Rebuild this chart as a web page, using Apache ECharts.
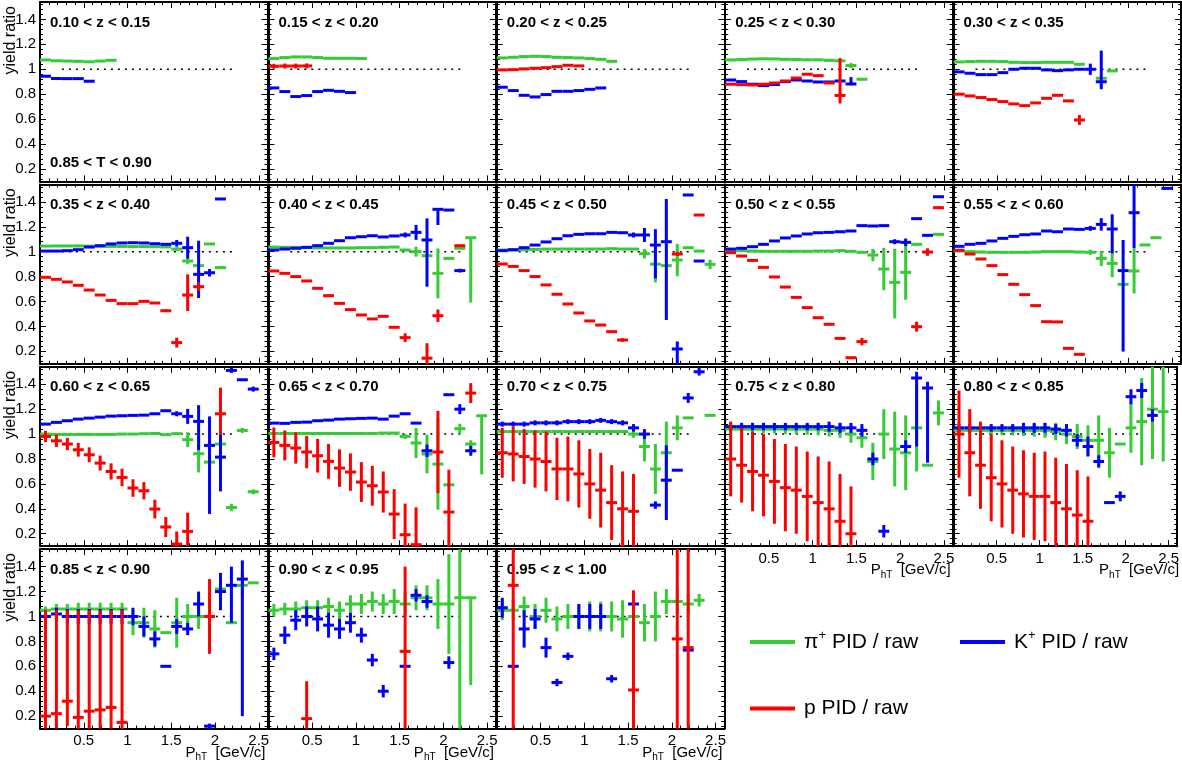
<!DOCTYPE html>
<html><head><meta charset="utf-8">
<script src="https://cdn.jsdelivr.net/npm/echarts@6/dist/echarts.min.js"></script>
<style>html,body{margin:0;padding:0;background:#fff}#c{width:1182px;height:763px}</style>
</head><body><div id="c"></div>
<script>
// ---------------- DATA ----------------
// pT bin centres (GeV/c), bin width 0.125
const pTcentres = [0.0625,0.1875,0.3125,0.4375,0.5625,0.6875,0.8125,0.9375,1.0625,1.1875,1.3125,1.4375,1.5625,1.6875,1.8125,1.9375,2.0625,2.1875,2.3125,2.4375,2.5625];
const pTHalfWidth = 0.0625;
const zLabels = ['0.10 < z < 0.15','0.15 < z < 0.20','0.20 < z < 0.25','0.25 < z < 0.30','0.30 < z < 0.35',
  '0.35 < z < 0.40','0.40 < z < 0.45','0.45 < z < 0.50','0.50 < z < 0.55','0.55 < z < 0.60',
  '0.60 < z < 0.65','0.65 < z < 0.70','0.70 < z < 0.75','0.75 < z < 0.80','0.80 < z < 0.85',
  '0.85 < z < 0.90','0.90 < z < 0.95','0.95 < z < 1.00'];
const thrustLabel = '0.85 < T < 0.90';
const seriesNames = ['π+ PID / raw','K+ PID / raw','p PID / raw'];
const refLine = [[0.25, 1], [2.2, 1]];
// entries per pT bin: null | value | [value, err] | [value, errLow, errHigh]
const pi_z010 = [1.075,1.068,1.066,1.064,1.060,1.066,1.072];
const K_z010  = [0.944,0.926,0.925,0.925,0.904];
const p_z010  = [];
const pi_z015 = [1.086,1.094,1.099,1.099,1.094,1.088,1.088,1.088,1.086];
const K_z015  = [0.850,0.821,0.781,0.789,0.821,0.831,0.823,0.813];
const p_z015  = [[1.024,0.02],[1.026,0.02],[1.026,0.02],[1.027,0.02]];
const pi_z020 = [1.091,1.096,1.102,1.104,1.102,1.096,1.094,1.091,1.086,1.080,1.064];
const K_z020  = [0.856,0.829,0.791,0.778,0.797,0.823,0.823,0.829,0.839,0.850];
const p_z020  = [0.995,0.997,1.003,1.008,1.013,1.021,1.032,1.027];
const pi_z025 = [1.075,1.078,1.082,1.084,1.083,1.080,1.078,1.076,1.076,1.072,[1.068,0.01],[1.03,0.02],0.92];
const K_z025  = [0.914,0.901,0.880,0.869,0.877,0.901,0.914,0.906,0.898,0.898,0.906,[0.882,0.01,0.055]];
const p_z025  = [0.880,0.877,0.874,0.880,0.890,0.906,0.930,0.960,0.949,0.890,[0.79,0.065,0.30]];
const pi_z030 = [1.059,1.062,1.064,1.064,1.062,1.056,1.054,1.054,1.056,1.056,1.056,[1.040,0.01],null,0.928,0.987];
const K_z030  = [0.979,0.968,0.957,0.957,0.973,1.0,1.008,1.008,0.995,0.989,0.995,1.0,[1.0,0.045],[0.90,0.06,0.25]];
const p_z030  = [0.80,0.786,0.773,0.757,0.741,0.722,0.708,0.730,0.767,0.791,0.746,[0.593,0.04]];
const pi_z035 = [1.045,1.046,1.046,1.046,1.044,1.043,1.042,1.042,1.041,1.041,1.040,1.038,[1.021,0.015],[0.925,0.025],0.888,1.062,0.872];
const K_z035  = [1.005,1.005,1.008,1.016,1.037,1.048,1.062,1.07,1.072,1.07,1.064,1.059,[1.067,0.027],[1.032,0.088],[0.818,0.19,0.27],[0.831,0.03],1.423];
const p_z035  = [0.794,0.778,0.757,0.730,0.692,0.652,0.609,0.583,0.583,0.601,0.588,[0.526,0.01],[0.27,0.04],[0.652,0.128,0.166],[0.719,0.035]];
const pi_z040 = [1.037,1.035,1.035,1.032,1.030,1.030,1.030,1.030,1.032,1.032,1.035,1.037,[1.013,0.01],[1.0,0.04],0.968,[0.826,0.2],0.946,1.027,[1.112,0.52,0.0]];
const K_z040  = [1.013,1.021,1.027,1.035,1.048,1.067,1.088,1.112,1.12,1.128,1.118,1.126,[1.134,0.02],[1.155,0.06],[1.094,0.375,0.173],[1.34,0.126,0.0],1.334,[0.848,0.015]];
const p_z040  = [0.845,0.826,0.80,0.765,0.706,0.647,0.585,0.535,0.492,0.46,0.481,0.393,[0.31,0.035],null,[0.145,0.1,0.12],[0.486,0.05],null,1.048];
const pi_z045 = [1.013,1.013,1.016,1.018,1.021,1.021,1.021,1.021,1.021,1.021,1.024,1.021,1.021,[0.984,0.038],[0.90,0.147],0.888,[0.933,0.13],1.032,1.005,[0.898,0.037]];
const K_z045  = [1.008,1.016,1.032,1.053,1.078,1.104,1.128,1.139,1.144,1.144,1.155,1.152,[1.134,0.02],[1.134,0.056],[1.053,0.267,0.128],[1.080,0.628,0.343],[0.219,0.12,0.06],1.455,0.925];
const p_z045  = [0.901,0.882,0.848,0.80,0.733,0.658,0.58,0.508,0.444,0.411,0.358,[0.291,0.015],null,null,null,null,[0.981,0.015],null,1.294];
const pi_z050 = [1.008,1.008,1.005,1.003,1.003,1.003,1.003,1.003,1.005,1.005,1.008,1.003,0.995,[0.973,0.05],[0.861,0.17],[0.754,0.29,0.27],[0.834,0.22,0.27],1.059,null,1.139];
const K_z050  = [1.021,1.027,1.04,1.059,1.086,1.110,1.126,1.142,1.152,1.155,1.16,1.166,1.209,1.206,1.209,[1.08,0.02],[1.075,0.03],1.265,1.131,1.441];
const p_z050  = [0.992,0.965,0.930,0.874,0.797,0.716,0.633,0.551,0.470,0.417,0.304,0.149,[0.278,0.03],null,null,null,null,[0.398,0.04],[0.997,0.03],[1.353,0.01]];
const pi_z055 = [1.005,1.0,0.997,0.995,0.995,0.995,0.995,0.997,1.0,1.0,1.0,0.997,[0.995,0.02],[0.946,0.06],[0.906,0.11],0.738,[0.845,0.18],1.054,1.112];
const K_z055  = [1.043,1.059,1.067,1.086,1.107,1.123,1.136,1.142,1.166,1.16,1.182,1.179,[1.187,0.02],[1.219,0.05],[1.182,0.195,0.118],[0.848,0.65,0.246],[1.313,0.286,0.3],null,null,1.508];
const p_z055  = [1.011,0.981,0.941,0.888,0.816,0.738,0.655,0.567,0.438,0.436,0.224,0.176];
const pi_z060 = [1.0,0.997,0.997,0.997,0.997,0.997,0.997,1.0,1.0,1.003,1.005,0.995,[1.003,0.01],[0.955,0.06],[0.842,0.15],0.775,[0.92,0.05],[0.411,0.03],[1.029,0.02],[0.537,0.02]];
const K_z060  = [1.08,1.094,1.107,1.12,1.128,1.136,1.144,1.147,1.15,1.152,1.163,[1.187,0.01],[1.163,0.02],[1.142,0.06],[1.102,0.23,0.13],[0.909,0.55,0.233],[0.815,0.275,0.2],[1.511,0.02],1.436,[1.361,0.02]];
const p_z060  = [[0.981,0.045],[0.946,0.05],[0.92,0.05],[0.874,0.055],[0.834,0.06],[0.767,0.06],[0.70,0.065],[0.652,0.07],[0.567,0.07],[0.545,0.07],[0.398,0.075],[0.254,0.08],[0.117,0.1],[0.219,0.15],null,null,[1.163,0.17,0.21]];
const pi_z065 = [1.005,1.005,1.005,1.005,1.005,1.005,1.005,1.005,1.005,1.005,1.008,1.008,[0.981,0.02],[0.928,0.12],[0.84,0.155],[0.759,0.366],[0.593,0.01],[1.043,0.04],[0.92,0.03],[1.147,0.47,0.0]];
const K_z065  = [1.088,1.086,1.094,1.096,1.107,1.112,1.12,1.123,1.126,1.128,1.12,1.144,1.163,1.088,[0.866,0.05],null,1.316,[1.2,0.04],[0.866,0.04]];
const p_z065  = [[0.933,0.12],[0.909,0.12],[0.888,0.125],[0.856,0.13],[0.826,0.135],[0.781,0.14],[0.727,0.15],[0.695,0.15],[0.615,0.16],[0.585,0.16],[0.535,0.165],[0.358,0.2],[0.192,0.25],[0.112,0.3],null,[0.856,0.33],[0.374,0.34],null,[1.329,0.08]];
const pi_z070 = [1.02,1.02,1.02,1.02,1.02,1.02,1.02,1.02,1.02,1.02,1.02,1.02,[1.0,0.03],[0.9,0.12],[0.72,0.2],[0.85,0.25],[1.05,0.1],1.13,null,1.15];
const K_z070  = [[1.08,0.02],[1.08,0.02],[1.08,0.02],[1.09,0.02],[1.09,0.02],[1.09,0.02],[1.10,0.02],[1.10,0.02],[1.10,0.02],[1.11,0.02],[1.10,0.02],[1.09,0.02],[1.05,0.03],[1.0,0.04],[0.43,0.03],[0.63,0.32,0.28],0.71,[1.29,0.04],[1.5,0.03]];
const p_z070  = [[0.85,0.2],[0.84,0.22],[0.82,0.22],[0.8,0.23],[0.78,0.24],[0.72,0.25],[0.72,0.26],[0.68,0.27],[0.6,0.28],[0.55,0.3],[0.45,0.3],[0.4,0.3],[0.38,0.3]];
const pi_z075 = [[1.04,0.03],[1.04,0.03],[1.04,0.03],[1.04,0.035],[1.04,0.035],[1.04,0.04],[1.04,0.04],[1.04,0.045],[1.04,0.05],[1.03,0.05],[1.03,0.06],[1.0,0.07],[0.97,0.08],[0.78,0.15],[1.0,0.2],[0.88,0.3],[0.85,0.3],[1.05,0.35],0.75,[1.17,0.1]];
const K_z075  = [[1.06,0.03],[1.06,0.03],[1.06,0.03],[1.06,0.03],[1.06,0.03],[1.06,0.03],[1.06,0.03],[1.06,0.03],[1.06,0.03],[1.06,0.04],[1.05,0.04],[1.05,0.04],[1.03,0.05],[0.8,0.05],[0.22,0.05],null,[0.9,0.05],[1.45,0.55,0.05],[1.37,0.6,0.05]];
const p_z075  = [[0.8,0.3],[0.75,0.3],[0.7,0.32],[0.67,0.33],[0.62,0.34],[0.57,0.35],[0.55,0.35],[0.5,0.36],[0.45,0.37],[0.4,0.38],[0.3,0.38],[0.2,0.38]];
const pi_z080 = [[1.03,0.03],[1.03,0.03],[1.03,0.035],[1.03,0.035],[1.03,0.04],[1.03,0.04],[1.03,0.045],[1.03,0.05],[1.03,0.06],[1.02,0.07],[1.0,0.08],[0.98,0.1],[0.95,0.12],[0.95,0.2],[0.85,0.2],0.92,[1.05,0.2],[1.1,0.35],[1.2,0.4],[1.18,0.4]];
const K_z080  = [[1.05,0.03],[1.05,0.03],[1.05,0.03],[1.05,0.03],[1.05,0.03],[1.05,0.03],[1.05,0.04],[1.05,0.04],[1.05,0.04],[1.04,0.04],[1.03,0.05],[0.95,0.05],[0.9,0.08],[0.78,0.05],0.45,[0.5,0.04],[1.3,0.06],[1.35,0.06],[1.15,0.05]];
const p_z080  = [[1.0,0.35],[0.85,0.35],[0.75,0.35],[0.65,0.35],[0.6,0.35],[0.55,0.35],[0.52,0.35],[0.5,0.35],[0.5,0.36],[0.45,0.36],[0.4,0.36],[0.35,0.36],[0.3,0.36]];
const pi_z085 = [[1.05,0.03],[1.06,0.04],[1.06,0.04],[1.06,0.05],[1.06,0.05],[1.06,0.05],[1.06,0.05],[1.06,0.05],[0.95,0.1],[0.95,0.12],[0.9,0.15],0.87,[0.95,0.2],[1.0,0.1],[1.0,0.1],[1.0,0.15],1.22,0.95,[1.25,0.1],1.27];
const K_z085  = [[1.0,0.05],[1.02,0.05],[1.0,0.06],[1.0,0.06],[1.0,0.06],[1.0,0.06],[1.0,0.06],[1.0,0.06],[1.0,0.07],[0.92,0.08],[0.82,0.06],0.6,[0.92,0.06],[0.9,0.05],[1.1,0.1],[0.12,0.02],[1.2,0.15],[1.25,0.3,0.15],[1.3,1.1,0.15]];
const p_z085  = [[0.2,0.1,0.85],[0.22,0.12,0.83],[0.32,0.2,0.73],[0.19,0.09,0.86],[0.24,0.14,0.81],[0.25,0.15,0.8],[0.27,0.17,0.78],[0.15,0.05,0.9],null,null,null,null,null,null,null,[1.0,0.3]];
const pi_z090 = [[1.05,0.05],[1.06,0.05],[1.06,0.06],[1.07,0.06],[1.07,0.06],[1.08,0.07],[1.05,0.07],[1.1,0.07],[1.1,0.08],[1.12,0.08],[1.1,0.08],[1.12,0.1],[1.1,0.1],[1.15,0.1],[1.15,0.1],[1.1,0.2],[1.1,0.4],[1.15,1.05,0.4],[1.15,0.7,0.0]];
const K_z090  = [[0.7,0.05],[0.85,0.07],[0.97,0.08],[1.0,0.08],[0.98,0.1],[0.93,0.1],[0.9,0.08],[0.95,0.08],[0.85,0.06],[0.65,0.05],[0.4,0.05],null,[0.6,0.01],[1.17,0.05],[1.12,0.05],null,[0.63,0.05]];
const p_z090  = [null,null,null,[0.18,0.08,0.3],null,null,null,null,null,null,null,null,[0.72,0.62,0.68]];
const pi_z095 = [[1.05,0.08],[1.05,0.08],[1.08,0.08],[1.0,0.1],[1.05,0.1],[0.98,0.1],[1.0,0.1],[1.0,0.1],[1.0,0.12],[1.0,0.12],[1.0,0.12],[0.98,0.15],[1.0,0.15],[0.95,0.15],[1.0,0.2],[1.12,0.1],[1.12,0.1],[1.1,0.08],[1.13,0.05]];
const K_z095  = [[1.07,0.08],0.6,[0.9,0.15],[0.98,0.08],[0.75,0.08],[0.47,0.03],[0.68,0.03],[1.0,0.1],[1.0,0.1],[1.0,0.1],[0.5,0.03],null,[1.1,0.05],null,null,null,null,0.73];
const p_z095  = [null,[1.25,1.15,0.3],null,null,null,null,null,null,null,null,null,null,[0.41,0.31,0.8],null,null,null,[0.82,0.72,0.72],[0.75,0.65,0.79]];

// ---------------- BUILD ----------------
const panelData = [
  [pi_z010,K_z010,p_z010],[pi_z015,K_z015,p_z015],[pi_z020,K_z020,p_z020],[pi_z025,K_z025,p_z025],[pi_z030,K_z030,p_z030],
  [pi_z035,K_z035,p_z035],[pi_z040,K_z040,p_z040],[pi_z045,K_z045,p_z045],[pi_z050,K_z050,p_z050],[pi_z055,K_z055,p_z055],
  [pi_z060,K_z060,p_z060],[pi_z065,K_z065,p_z065],[pi_z070,K_z070,p_z070],[pi_z075,K_z075,p_z075],[pi_z080,K_z080,p_z080],
  [pi_z085,K_z085,p_z085],[pi_z090,K_z090,p_z090],[pi_z095,K_z095,p_z095]
];
const COLORS = ['#33cc33','#0000ff','#ff0000'];
const FONT = 'Liberation Sans, Arial, Helvetica, sans-serif';
const COL_LEFT = [40, 268.4, 496.8, 725.2, 953.6];
const ROW_TOP = [2.0, 184.4, 366.8, 549.2];
const W = 227.5, H = 179.4;
const YMIN = 0.1, YMAX = 1.54, XMIN = 0, XMAX = 2.6;
const DEFAULT_ERR = 0.004;
const LW = 3;

function toPoints(arr){
  const out = [];
  arr.forEach((e,k)=>{
    if (e == null) return;
    let v, lo, hi;
    if (typeof e === 'number') { v = e; lo = hi = DEFAULT_ERR; }
    else if (e.length === 2) { v = e[0]; lo = hi = e[1]; }
    else { v = e[0]; lo = e[1]; hi = e[2]; }
    out.push([pTcentres[k], v, lo, hi]);
  });
  return out;
}

function renderBar(params, api){
  const cs = params.coordSys;
  const x = api.value(0), y = api.value(1), lo = api.value(2), hi = api.value(3);
  const c = api.visual('color');
  const top = cs.y, bot = cs.y + cs.height;
  const clampY = v => Math.max(top, Math.min(bot, v));
  const pl = api.coord([x - pTHalfWidth, y]), pr = api.coord([x + pTHalfWidth, y]);
  const pb = api.coord([x, y - lo]), pt = api.coord([x, y + hi]);
  const style = {stroke: c, lineWidth: LW, fill: null};
  const children = [];
  if (pl[1] >= top - 1 && pl[1] <= bot + 1) {
    children.push({type:'line', shape:{x1:pl[0], y1:clampY(pl[1]), x2:pr[0], y2:clampY(pr[1])}, style});
  }
  const y1 = clampY(pb[1]), y2 = clampY(pt[1]);
  if (Math.abs(y1 - y2) > 0.5) children.push({type:'line', shape:{x1:pb[0], y1:y1, x2:pt[0], y2:y2}, style});
  return {type:'group', children};
}

const option = {animation:false, textStyle:{fontFamily:FONT}, grid:[], xAxis:[], yAxis:[], series:[], graphic:[], legend:[]};

function xAxisCfg(i, pos, showLabel){
  return {type:'value', gridIndex:i, position:pos, min:XMIN, max:XMAX, interval:0.5,
    axisLine:{show:true, onZero:false, lineStyle:{color:'#000', width:2}},
    axisTick:{show:true, inside:true, length:6, lineStyle:{color:'#000', width:1}},
    minorTick:{show:true, splitNumber:5, length:3, lineStyle:{color:'#000', width:1}},
    splitLine:{show:false}, minorSplitLine:{show:false},
    axisLabel:{show:showLabel, showMinLabel:false, showMaxLabel:false, margin:5, fontSize:15, color:'#000', fontFamily:FONT}};
}
function yAxisCfg(i, pos, showLabel){
  return {type:'value', gridIndex:i, position:pos, min:YMIN, max:YMAX, splitNumber:7,
    axisLine:{show:true, onZero:false, lineStyle:{color:'#000', width:2}},
    axisTick:{show:true, inside:true, length:6, lineStyle:{color:'#000', width:1}},
    minorTick:{show:true, splitNumber:5, length:3, lineStyle:{color:'#000', width:1}},
    splitLine:{show:false}, minorSplitLine:{show:false},
    axisLabel:{show:showLabel, showMinLabel:false, showMaxLabel:false, margin:4, fontSize:15, color:'#000', fontFamily:FONT,
      formatter: v => (Math.abs(v/0.2 - Math.round(v/0.2)) < 1e-6) ? String(+v.toFixed(1)) : ''}};
}

panelData.forEach((sets, i) => {
  const r = Math.floor(i/5), c = i % 5;
  const bottomPanel = (r === 3) || (r === 2 && c >= 3);
  option.grid.push({left:COL_LEFT[c], top:ROW_TOP[r], width:W, height:H});
  option.xAxis.push(xAxisCfg(i, 'bottom', bottomPanel));
  option.xAxis.push(xAxisCfg(i, 'top', false));
  option.yAxis.push(yAxisCfg(i, 'left', c === 0));
  option.yAxis.push(yAxisCfg(i, 'right', false));
  option.series.push({type:'line', xAxisIndex:2*i, yAxisIndex:2*i, data:refLine, symbol:'none', silent:true,
    lineStyle:{color:'#000', width:1.5, type:[2,5]}, z:1});
  sets.forEach((arr, s) => {
    option.series.push({type:'custom', name:seriesNames[s], xAxisIndex:2*i, yAxisIndex:2*i,
      data:toPoints(arr), renderItem:renderBar, itemStyle:{color:COLORS[s]}, silent:true, z:2+s,
      encode:{x:0, y:1}});
  });
  option.graphic.push({type:'text', x:COL_LEFT[c]+10, y:ROW_TOP[r]+20.5, silent:true,
    style:{text:zLabels[i], fontSize:15, fontWeight:'bold', fontFamily:FONT, fill:'#000', align:'left', verticalAlign:'middle'}});
  if (bottomPanel) {
    option.graphic.push({type:'text', x:COL_LEFT[c]+W-2, y:ROW_TOP[r]+H+24, silent:true,
      style:{text:'{a|P}{b|hT}{a|  [GeV/c]}', align:'right', verticalAlign:'middle', fill:'#000',
        rich:{a:{fontSize:15, fontFamily:FONT, fill:'#000', lineHeight:20},
              b:{fontSize:10, fontFamily:FONT, fill:'#000', verticalAlign:'bottom', lineHeight:20}}}});
  }
});
ROW_TOP.forEach(t => {
  option.graphic.push({type:'text', x:10.5, y:t+4, rotation:Math.PI/2, silent:true,
    style:{text:'yield ratio', fontSize:16, fontFamily:FONT, fill:'#000', align:'right', verticalAlign:'middle'}});
});
option.graphic.push({type:'text', x:COL_LEFT[0]+10, y:ROW_TOP[0]+160.5, silent:true,
  style:{text:thrustLabel, fontSize:15, fontWeight:'bold', fontFamily:FONT, fill:'#000', align:'left', verticalAlign:'middle'}});

const legendRich = {t:{fontSize:21, fontFamily:FONT, color:'#000', padding:[0,0,0,4], lineHeight:26},
  u:{fontSize:21, fontFamily:FONT, color:'#000', lineHeight:26},
  s:{fontSize:13, fontFamily:FONT, color:'#000', verticalAlign:'top', lineHeight:26}};
function legendFmt(name){
  if (name.startsWith('π+')) return '{t|π}{s|+}{u| PID / raw}';
  if (name.startsWith('K+')) return '{t|K}{s|+}{u| PID / raw}';
  return '{t|p PID / raw}';
}
[[seriesNames[0], 745, 624], [seriesNames[1], 955, 624], [seriesNames[2], 745, 693]].forEach(([nm, l, t]) => {
  option.legend.push({data:[nm], left:l, top:t, icon:'rect', itemWidth:45, itemHeight:4, selectedMode:false,
    formatter:legendFmt, textStyle:{rich:legendRich, fontSize:21, color:'#000'}});
});

const chart = echarts.init(document.getElementById('c'), null, {renderer:'canvas'});
chart.setOption(option);
</script>
</body></html>
